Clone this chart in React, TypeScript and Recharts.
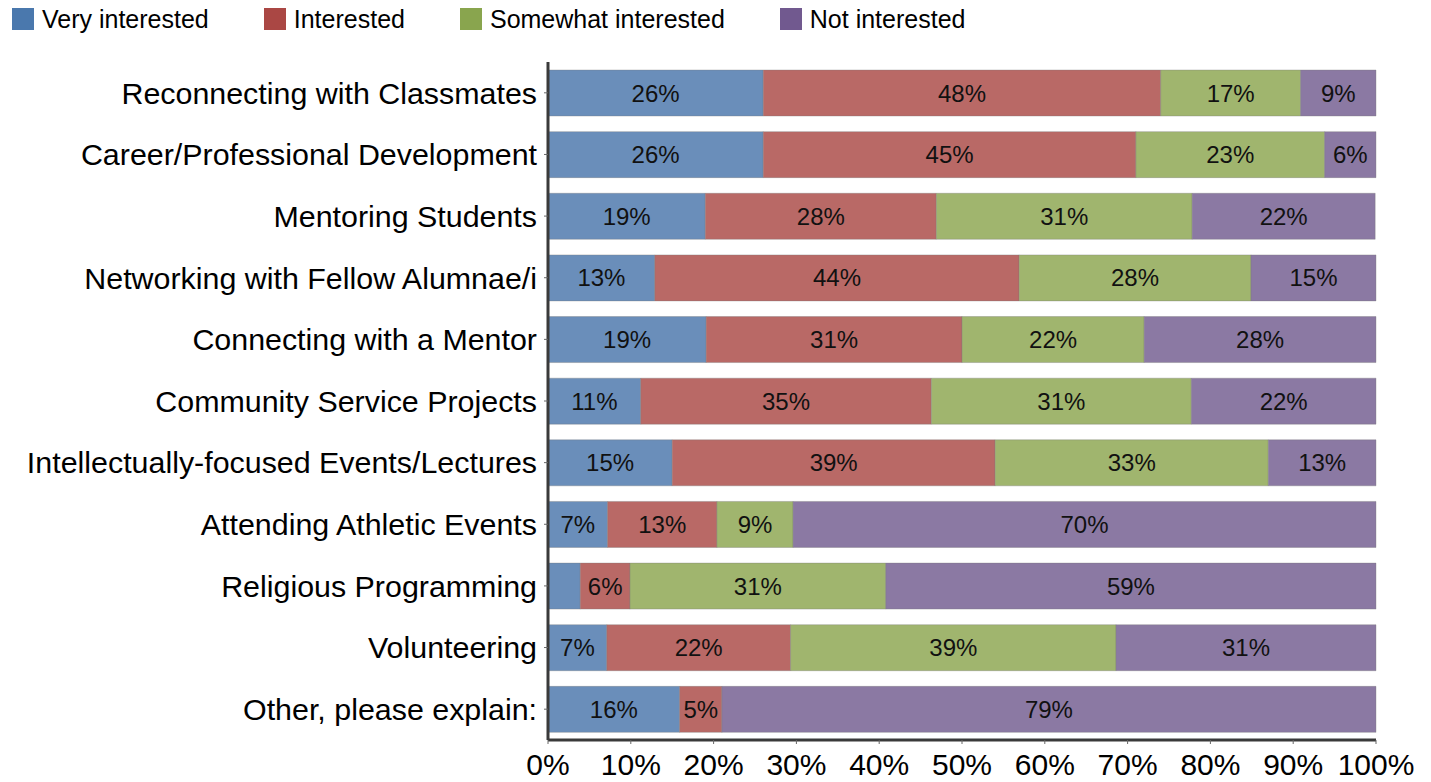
import React from 'react'
import {
  BarChart, Bar, XAxis, YAxis, LabelList,
} from 'recharts'

const categories = [
  'Reconnecting with Classmates',
  'Career/Professional Development',
  'Mentoring Students',
  'Networking with Fellow Alumnae/i',
  'Connecting with a Mentor',
  'Community Service Projects',
  'Intellectually-focused Events/Lectures',
  'Attending Athletic Events',
  'Religious Programming',
  'Volunteering',
  'Other, please explain:',
]

const veryInterested = [26, 26, 19, 12.9, 19.1, 11.2, 15, 7.2, 3.9, 7.1, 15.9]
const interested = [48, 45, 27.9, 44, 30.9, 35.1, 39, 13.2, 6, 22.2, 5.1]
const somewhatInterested = [16.9, 22.8, 30.9, 28, 22, 31.4, 33, 9.2, 30.9, 39.3, 0]
const notInterested = [9.1, 6.2, 22.1, 15.1, 28, 22.3, 13, 70.4, 59.2, 31.4, 79]

const xTicks = [0, 10, 20, 30, 40, 50, 60, 70, 80, 90, 100]

const series = [
  { key: 'very', name: 'Very interested', fill: '#6A8EBA', swatch: '#4A78AD' },
  { key: 'interested', name: 'Interested', fill: '#B96966', swatch: '#AA4744' },
  { key: 'somewhat', name: 'Somewhat interested', fill: '#A0B56E', swatch: '#89A54E' },
  { key: 'not', name: 'Not interested', fill: '#8B79A3', swatch: '#71598F' },
]

const data = categories.map((name, i) => ({
  name,
  very: veryInterested[i],
  interested: interested[i],
  somewhat: somewhatInterested[i],
  not: notInterested[i],
}))

// small segments (under ~4.5%) carry no label in the original
const pct = (v: any) => {
  const n = Number(v)
  return n < 4.5 ? '' : `${Math.round(n)}%`
}

const font = '"Liberation Sans", Arial, sans-serif'

export default function App() {
  return (
    <div style={{ position: 'fixed', left: 0, top: 0, width: 1431, height: 782, background: '#fff', fontFamily: font }}>
      <div style={{ position: 'absolute', left: 12, top: 8, display: 'flex', alignItems: 'center', fontSize: 25, color: '#000' }}>
        {series.map((s) => (
          <div key={s.key} style={{ display: 'flex', alignItems: 'center', marginRight: 55 }}>
            <span style={{ width: 22, height: 22, background: s.swatch, display: 'inline-block', marginRight: 8 }} />
            <span style={{ lineHeight: '22px' }}>{s.name}</span>
          </div>
        ))}
      </div>
      <BarChart
        width={1431}
        height={782}
        data={data}
        layout="vertical"
        barSize={46}
        margin={{ top: 62, right: 55, left: 0, bottom: 0 }}
        style={{ fontFamily: font }}
      >
        <XAxis
          type="number"
          domain={[0, 100]}
          ticks={xTicks}
          tickFormatter={(v: number) => `${v}%`}
          tick={{ fontSize: 30, fill: '#000' }}
          axisLine={{ stroke: '#3a3a3a', strokeWidth: 3 }}
          tickLine={{ stroke: '#666' }}
          tickSize={4}
          tickMargin={10}
          height={42}
          interval={0}
        />
        <YAxis
          type="category"
          dataKey="name"
          width={548}
          tick={{ fontSize: 30.4, fill: '#000' }}
          axisLine={{ stroke: '#3a3a3a', strokeWidth: 3 }}
          tickLine={{ stroke: '#666' }}
          tickSize={4}
          tickMargin={7}
          interval={0}
        />
        {series.map((s) => (
          <Bar
            key={s.key}
            dataKey={s.key}
            name={s.name}
            stackId="a"
            fill={s.fill}
            stroke="rgba(120,120,120,0.35)"
            strokeWidth={1}
            isAnimationActive={false}
          >
            <LabelList dataKey={s.key} position="center" formatter={pct} fill="#111" fontSize={24} />
          </Bar>
        ))}
      </BarChart>
    </div>
  )
}
